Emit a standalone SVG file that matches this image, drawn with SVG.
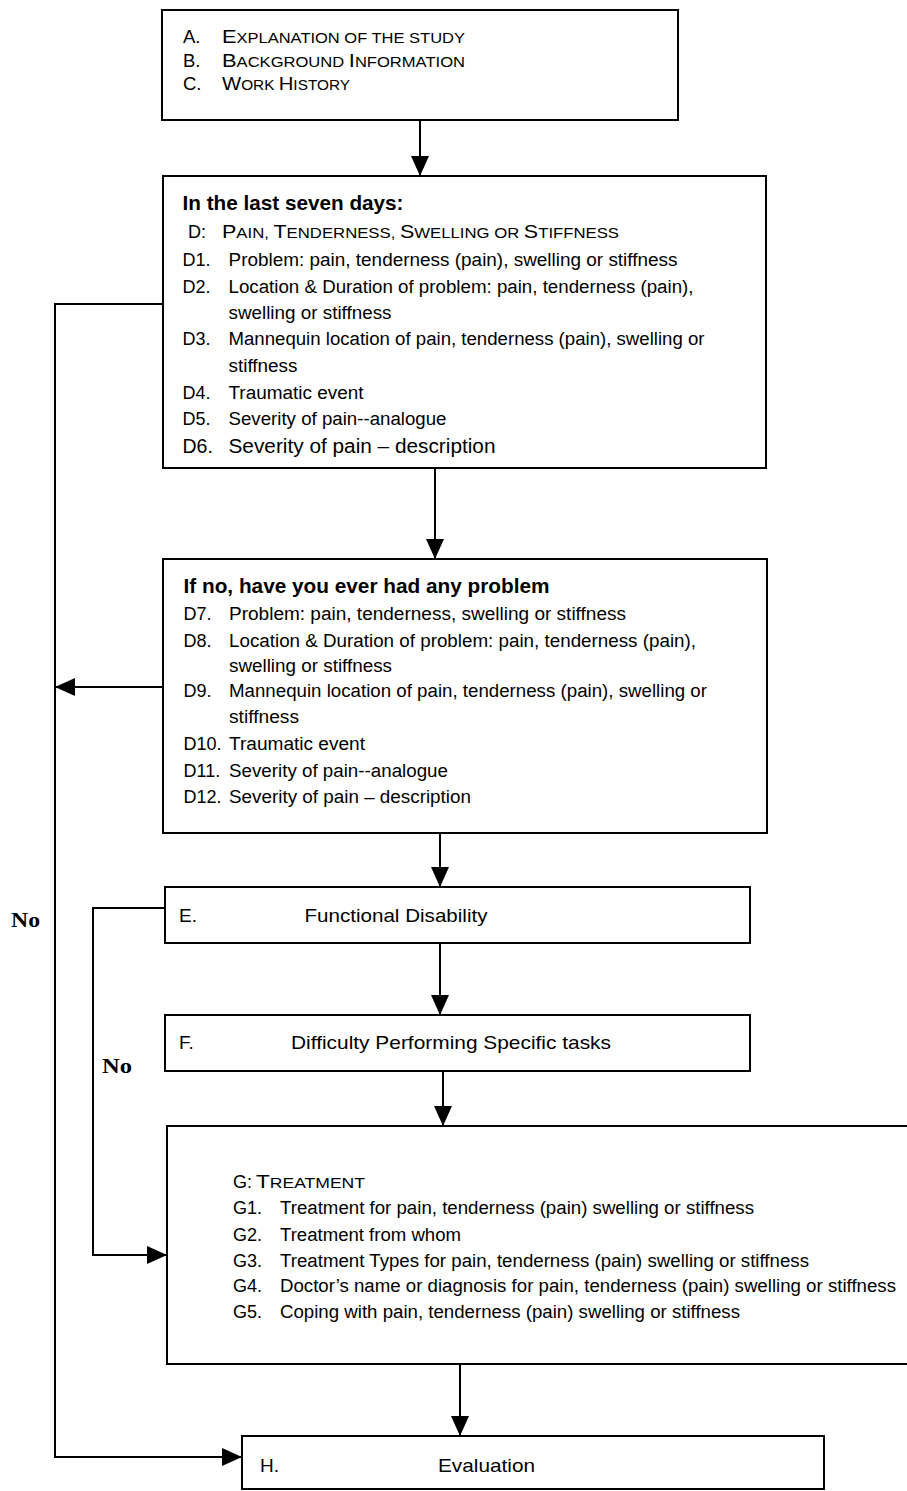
<svg xmlns="http://www.w3.org/2000/svg" width="907" height="1491" viewBox="0 0 907 1491">
<style>
.box{fill:#fff;stroke:#000;stroke-width:2}
.ln{fill:none;stroke:#000;stroke-width:2}
text{font-family:"Liberation Sans",Arial,sans-serif;font-size:18px;fill:#000}
.b{font-weight:bold;font-size:21px}
.sc{font-size:14px}
.big{font-size:18.5px}
.no{font-family:"Liberation Serif","Times New Roman",serif;font-weight:bold;font-size:20px}
</style>
<defs>
<marker id="ah" markerUnits="userSpaceOnUse" markerWidth="20" markerHeight="18" refX="20" refY="9" orient="auto"><path d="M0,0 L20,9 L0,18 z" fill="#000"/></marker>
</defs>
<rect width="907" height="1491" fill="#fff"/>
<g id="connectors">
<path class="ln" d="M420,120 V176" marker-end="url(#ah)"/>
<path class="ln" d="M435,468 V559" marker-end="url(#ah)"/>
<path class="ln" d="M440,833 V887" marker-end="url(#ah)"/>
<path class="ln" d="M440,943 V1015" marker-end="url(#ah)"/>
<path class="ln" d="M443,1071 V1126" marker-end="url(#ah)"/>
<path class="ln" d="M460,1364 V1436" marker-end="url(#ah)"/>
<path class="ln" d="M163,304 H55 V1457 H242" marker-end="url(#ah)"/>
<path class="ln" d="M163,687 H55" marker-end="url(#ah)"/>
<path class="ln" d="M165,908 H93 V1255 H167" marker-end="url(#ah)"/>
<text class="no" x="11" y="927" textLength="29" lengthAdjust="spacingAndGlyphs">No</text>
<text class="no" x="102" y="1073" textLength="30" lengthAdjust="spacingAndGlyphs">No</text>
</g>
<g id="nodeABC">
<rect class="box" x="162" y="10" width="516" height="110"/>
<text class="big" x="183" y="43">A.</text>
<text class="big" x="222" y="43" textLength="243" lengthAdjust="spacingAndGlyphs">E<tspan class="sc">XPLANATION OF THE STUDY</tspan></text>
<text class="big" x="183" y="66.5">B.</text>
<text class="big" x="222" y="66.5" textLength="243" lengthAdjust="spacingAndGlyphs">B<tspan class="sc">ACKGROUND </tspan>I<tspan class="sc">NFORMATION</tspan></text>
<text class="big" x="183" y="90">C.</text>
<text class="big" x="222" y="90" textLength="128" lengthAdjust="spacingAndGlyphs">W<tspan class="sc">ORK </tspan>H<tspan class="sc">ISTORY</tspan></text>
</g>
<g id="nodeD">
<rect class="box" x="163" y="176" width="603" height="292"/>
<text class="b" x="182.5" y="210" textLength="221" lengthAdjust="spacingAndGlyphs">In the last seven days:</text>
<text x="188" y="238">D:</text>
<text x="222" y="238" textLength="397" lengthAdjust="spacingAndGlyphs">P<tspan class="sc">AIN, </tspan>T<tspan class="sc">ENDERNESS, </tspan>S<tspan class="sc">WELLING OR </tspan>S<tspan class="sc">TIFFNESS</tspan></text>
<text x="182.5" y="266">D1.</text>
<text x="228.5" y="266" textLength="449" lengthAdjust="spacingAndGlyphs">Problem:  pain, tenderness (pain), swelling or stiffness</text>
<text x="182.5" y="293">D2.</text>
<text x="228.5" y="293" textLength="465" lengthAdjust="spacingAndGlyphs">Location &amp; Duration of problem: pain, tenderness (pain),</text>
<text x="228.5" y="319" textLength="163" lengthAdjust="spacingAndGlyphs">swelling or stiffness</text>
<text x="182.5" y="345">D3.</text>
<text x="228.5" y="345" textLength="476" lengthAdjust="spacingAndGlyphs">Mannequin location of pain, tenderness (pain), swelling or</text>
<text x="228.5" y="372" textLength="69" lengthAdjust="spacingAndGlyphs">stiffness</text>
<text x="182.5" y="399">D4.</text>
<text x="228.5" y="399" textLength="135" lengthAdjust="spacingAndGlyphs">Traumatic event</text>
<text x="182.5" y="425">D5.</text>
<text x="228.5" y="425" textLength="218" lengthAdjust="spacingAndGlyphs">Severity of pain--analogue</text>
<text x="182.5" y="453" style="font-size:19.5px">D6.</text>
<text x="228.5" y="453" style="font-size:19.5px" textLength="267" lengthAdjust="spacingAndGlyphs">Severity of pain – description</text>
</g>
<g id="nodeD7">
<rect class="box" x="163" y="559" width="604" height="274"/>
<text class="b" x="183.5" y="593" textLength="366" lengthAdjust="spacingAndGlyphs">If no, have you ever had any problem</text>
<text x="183.5" y="620">D7.</text>
<text x="229" y="620" textLength="397" lengthAdjust="spacingAndGlyphs">Problem:  pain, tenderness, swelling or stiffness</text>
<text x="183.5" y="647">D8.</text>
<text x="229" y="647" textLength="467" lengthAdjust="spacingAndGlyphs">Location &amp; Duration of problem: pain, tenderness (pain),</text>
<text x="229" y="672" textLength="163" lengthAdjust="spacingAndGlyphs">swelling or stiffness</text>
<text x="183.5" y="697">D9.</text>
<text x="229" y="697" textLength="478" lengthAdjust="spacingAndGlyphs">Mannequin location of pain, tenderness (pain), swelling or</text>
<text x="229" y="723" textLength="70" lengthAdjust="spacingAndGlyphs">stiffness</text>
<text x="183.5" y="750">D10.</text>
<text x="229" y="750" textLength="136" lengthAdjust="spacingAndGlyphs">Traumatic event</text>
<text x="183.5" y="777">D11.</text>
<text x="229" y="777" textLength="219" lengthAdjust="spacingAndGlyphs">Severity of pain--analogue</text>
<text x="183.5" y="803">D12.</text>
<text x="229" y="803" textLength="242" lengthAdjust="spacingAndGlyphs">Severity of pain – description</text>
</g>
<g id="nodeE">
<rect class="box" x="165" y="887" width="585" height="56"/>
<text x="179" y="922" style="font-size:19px">E.</text>
<text x="304.5" y="922" style="font-size:19px" textLength="183" lengthAdjust="spacingAndGlyphs">Functional Disability</text>
</g>
<g id="nodeF">
<rect class="box" x="165" y="1015" width="585" height="56"/>
<text x="179" y="1049" style="font-size:19px">F.</text>
<text x="291" y="1049" style="font-size:19px" textLength="320" lengthAdjust="spacingAndGlyphs">Difficulty Performing Specific tasks</text>
</g>
<g id="nodeG">
<rect class="box" x="167" y="1126" width="750" height="238"/>
<text x="233" y="1188">G:</text>
<text x="256" y="1188" textLength="109" lengthAdjust="spacingAndGlyphs">T<tspan class="sc">REATMENT</tspan></text>
<text x="233" y="1214">G1.</text>
<text x="280" y="1214" textLength="474" lengthAdjust="spacingAndGlyphs">Treatment for pain, tenderness (pain) swelling or stiffness</text>
<text x="233" y="1241">G2.</text>
<text x="280" y="1241" textLength="181" lengthAdjust="spacingAndGlyphs">Treatment from whom</text>
<text x="233" y="1267">G3.</text>
<text x="280" y="1267" textLength="529" lengthAdjust="spacingAndGlyphs">Treatment Types for pain, tenderness (pain) swelling or stiffness</text>
<text x="233" y="1292">G4.</text>
<text x="280" y="1292" textLength="616" lengthAdjust="spacingAndGlyphs">Doctor’s name or diagnosis for pain, tenderness (pain) swelling or stiffness</text>
<text x="233" y="1318">G5.</text>
<text x="280" y="1318" textLength="460" lengthAdjust="spacingAndGlyphs">Coping with pain, tenderness (pain) swelling or stiffness</text>
</g>
<g id="nodeH">
<rect class="box" x="242" y="1436" width="582" height="53"/>
<text x="260" y="1472" style="font-size:19px">H.</text>
<text x="438" y="1472" style="font-size:19px" textLength="97" lengthAdjust="spacingAndGlyphs">Evaluation</text>
</g>
</svg>
